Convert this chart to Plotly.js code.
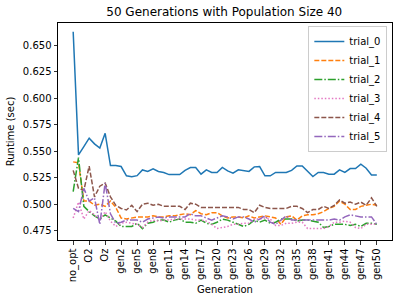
<!DOCTYPE html>
<html>
<head>
<meta charset="utf-8">
<script src="https://cdn.plot.ly/plotly-3.0.1.min.js"></script>
<style>html,body{margin:0;padding:0;background:#fff}#chart{width:398px;height:302px}</style>
</head>
<body>
<div id="chart"></div>
<script>
// categories
var generations = ["no_opt","O0","O1","O2","O3","Os","Oz"];
for (var g = 0; g <= 50; g++) generations.push("gen" + g);

var tickLabels = ["no_opt","O2","Oz","gen2","gen5","gen8","gen11","gen14","gen17","gen20","gen23","gen26","gen29","gen32","gen35","gen38","gen41","gen44","gen47","gen50"];

var seriesNames = ["trial_0","trial_1","trial_2","trial_3","trial_4","trial_5"];

var trial_0 = [0.663,0.5466,0.5545,0.5624,0.557,0.553,0.567,0.5365,0.5365,0.5356,0.5268,0.526,0.527,0.5324,0.531,0.5335,0.531,0.530,0.528,0.528,0.528,0.532,0.5347,0.5347,0.5284,0.5325,0.530,0.530,0.5347,0.5315,0.5293,0.5325,0.5315,0.531,0.5353,0.5356,0.5268,0.5268,0.530,0.530,0.530,0.532,0.5362,0.5362,0.5309,0.5262,0.530,0.530,0.5284,0.5284,0.5325,0.530,0.5337,0.5337,0.5378,0.534,0.5277,0.5277];
var trial_1 = [0.540,0.539,0.503,0.503,0.499,0.500,0.498,0.503,0.497,0.487,0.486,0.487,0.488,0.488,0.488,0.489,0.488,0.488,0.489,0.489,0.490,0.491,0.490,0.494,0.491,0.490,0.492,0.492,0.489,0.487,0.488,0.488,0.487,0.489,0.487,0.488,0.489,0.488,0.487,0.481,0.488,0.489,0.485,0.489,0.490,0.490,0.491,0.493,0.496,0.498,0.503,0.500,0.495,0.495,0.498,0.499,0.500,0.499];
var trial_2 = [0.512,0.544,0.498,0.493,0.489,0.486,0.490,0.487,0.484,0.479,0.479,0.479,0.482,0.477,0.482,0.483,0.485,0.485,0.483,0.485,0.486,0.483,0.483,0.482,0.485,0.482,0.481,0.483,0.486,0.485,0.483,0.481,0.479,0.481,0.485,0.483,0.485,0.482,0.483,0.486,0.486,0.486,0.484,0.485,0.485,0.484,0.483,0.478,0.479,0.481,0.481,0.481,0.480,0.481,0.479,0.482,0.482,0.481];
var trial_3 = [0.487,0.502,0.486,0.494,0.490,0.485,0.493,0.484,0.479,0.482,0.483,0.482,0.481,0.478,0.483,0.485,0.484,0.485,0.485,0.486,0.486,0.486,0.486,0.485,0.485,0.484,0.481,0.477,0.478,0.479,0.481,0.481,0.482,0.482,0.486,0.486,0.487,0.486,0.480,0.480,0.482,0.482,0.483,0.483,0.477,0.477,0.477,0.477,0.479,0.483,0.483,0.484,0.483,0.478,0.477,0.481,0.481,0.481];
var trial_4 = [0.532,0.515,0.513,0.536,0.507,0.517,0.520,0.507,0.499,0.496,0.4946,0.499,0.493,0.500,0.501,0.499,0.500,0.498,0.498,0.498,0.498,0.495,0.501,0.500,0.497,0.497,0.497,0.497,0.497,0.497,0.497,0.497,0.495,0.495,0.492,0.499,0.497,0.496,0.496,0.496,0.496,0.498,0.498,0.496,0.492,0.495,0.495,0.498,0.496,0.499,0.504,0.501,0.502,0.500,0.502,0.499,0.506,0.498];
var trial_5 = [0.496,0.493,0.515,0.503,0.506,0.481,0.520,0.491,0.482,0.483,0.485,0.485,0.485,0.483,0.486,0.487,0.488,0.487,0.488,0.488,0.488,0.488,0.491,0.489,0.489,0.487,0.485,0.487,0.489,0.488,0.486,0.488,0.488,0.486,0.483,0.486,0.489,0.483,0.481,0.485,0.489,0.485,0.485,0.485,0.485,0.485,0.485,0.485,0.485,0.486,0.485,0.488,0.490,0.489,0.488,0.488,0.488,0.481];

var yTicks = [0.475,0.500,0.525,0.550,0.575,0.600,0.625,0.650];

var allSeries = [trial_0, trial_1, trial_2, trial_3, trial_4, trial_5];
var colors = ["#1f77b4","#ff7f0e","#2ca02c","#e377c2","#8c564b","#9467bd"];
var dashes = ["solid","5px,2px","8px,2px,1.5px,2px","1.5px,2px","5px,2px","8px,2px,1.5px,2px"];

var traces = allSeries.map(function(s, k){
  return {
    x: generations, y: s, type: "scatter", mode: "lines", name: seriesNames[k],
    line: {color: colors[k], width: 1.5, dash: dashes[k]}
  };
});

var font = {family: "DejaVu Sans, sans-serif", size: 10, color: "#000"};
var layout = {
  width: 398, height: 302,
  margin: {l: 58, r: 6, t: 23, b: 62, pad: 0},
  paper_bgcolor: "#fff", plot_bgcolor: "#fff",
  font: font,
  showlegend: true,
  title: {text: "50 Generations with Population Size 40", font: {family: "DejaVu Sans, sans-serif", size: 12, color: "#000"}, x: 0.5635, xanchor: "center", y: 0.96, yanchor: "middle"},
  xaxis: {
    type: "category", categoryorder: "array", categoryarray: generations,
    range: [-2.85, 59.85],
    tickmode: "array", tickvals: tickLabels, ticktext: tickLabels, tickangle: -90,
    ticks: "outside", ticklen: 3.5, tickwidth: 0.8, tickcolor: "#000",
    showline: true, linecolor: "#000", linewidth: 1, mirror: true,
    showgrid: false, zeroline: false,
    tickfont: font,
    title: {text: "Generation", font: font, standoff: 4}
  },
  yaxis: {
    range: [0.4662, 0.6712],
    tickmode: "array", tickvals: yTicks, tickformat: ".3f",
    ticks: "outside", ticklen: 3.5, tickwidth: 0.8, tickcolor: "#000",
    showline: true, linecolor: "#000", linewidth: 1, mirror: true,
    showgrid: false, zeroline: false,
    tickfont: font,
    title: {text: "Runtime (sec)", font: font, standoff: 6}
  },
  legend: {
    x: 0.986, xanchor: "right", y: 0.986, yanchor: "top",
    bgcolor: "rgba(255,255,255,0.8)", bordercolor: "#cccccc", borderwidth: 1,
    font: font, tracegroupgap: 0, itemwidth: 30
  }
};

Plotly.newPlot("chart", traces, layout, {displayModeBar: false, staticPlot: true});
</script>
</body>
</html>
